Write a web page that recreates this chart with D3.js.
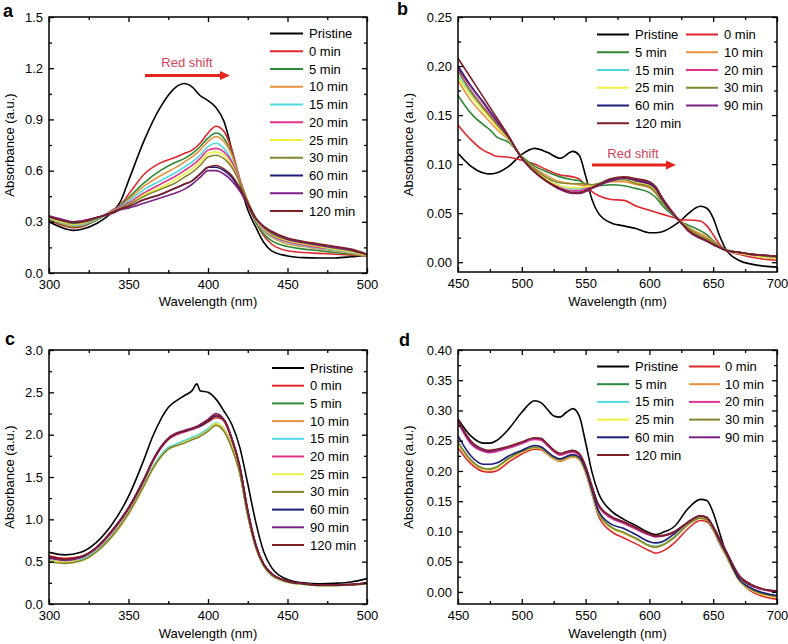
<!DOCTYPE html>
<html><head><meta charset="utf-8">
<script src="https://cdn.jsdelivr.net/npm/d3@7"></script>
<style>body{margin:0;background:#fff}svg{display:block}text{font-family:"Liberation Sans",Arial,Helvetica,sans-serif}</style>
</head><body>
<svg id="chart" width="788" height="644"></svg>
<script>
// ---------- series meta ----------
const seriesNames = ["Pristine","0 min","5 min","10 min","15 min","20 min","25 min","30 min","60 min","90 min","120 min"];
const seriesColors = ["#000000","#e1262b","#2b8a35","#e8913e","#4fd8e2","#e0338f","#f2ee40","#85852f","#1c1f78","#7b2185","#7d1f24"];

// ---------- panel a ----------
const aWavelength = [300,310,315,320,330,340,345,350,360,370,380,385,390,395,400,405,410,415,420,425,430,435,440,450,460,470,480,490,500];
const aPristine = [0.30,0.26,0.25,0.255,0.29,0.36,0.42,0.54,0.78,0.97,1.09,1.11,1.09,1.04,1.01,0.97,0.89,0.72,0.53,0.37,0.27,0.18,0.13,0.10,0.09,0.088,0.088,0.095,0.105];
const a0 = [0.31,0.275,0.265,0.27,0.31,0.37,0.40,0.46,0.58,0.645,0.68,0.70,0.72,0.76,0.82,0.86,0.83,0.72,0.55,0.40,0.30,0.22,0.17,0.13,0.12,0.115,0.11,0.105,0.10];
const a5 = [0.315,0.28,0.27,0.275,0.31,0.365,0.395,0.44,0.53,0.60,0.65,0.67,0.70,0.74,0.79,0.82,0.79,0.70,0.55,0.41,0.30,0.23,0.19,0.155,0.14,0.13,0.12,0.11,0.10];
const a10 = [0.32,0.285,0.275,0.28,0.315,0.365,0.39,0.43,0.51,0.57,0.62,0.65,0.68,0.72,0.77,0.80,0.77,0.69,0.55,0.42,0.31,0.245,0.21,0.17,0.155,0.14,0.13,0.115,0.10];
const a15 = [0.32,0.29,0.28,0.285,0.315,0.365,0.39,0.42,0.49,0.54,0.59,0.62,0.65,0.69,0.74,0.76,0.73,0.66,0.54,0.42,0.315,0.25,0.215,0.18,0.16,0.145,0.135,0.12,0.105];
const a20 = [0.325,0.295,0.285,0.29,0.32,0.365,0.385,0.41,0.47,0.52,0.57,0.60,0.63,0.67,0.72,0.73,0.71,0.65,0.54,0.42,0.32,0.255,0.22,0.185,0.165,0.15,0.14,0.125,0.105];
const a25 = [0.325,0.295,0.285,0.29,0.32,0.36,0.38,0.40,0.46,0.50,0.55,0.58,0.61,0.65,0.70,0.71,0.69,0.63,0.53,0.42,0.32,0.26,0.225,0.19,0.17,0.155,0.14,0.125,0.105];
const a30 = [0.33,0.30,0.29,0.295,0.32,0.36,0.38,0.40,0.45,0.49,0.53,0.56,0.59,0.63,0.68,0.69,0.67,0.62,0.53,0.42,0.325,0.265,0.23,0.195,0.175,0.16,0.145,0.13,0.105];
const a60 = [0.33,0.305,0.295,0.30,0.325,0.355,0.375,0.39,0.43,0.46,0.50,0.52,0.54,0.58,0.62,0.62,0.60,0.56,0.49,0.40,0.32,0.27,0.24,0.20,0.18,0.165,0.15,0.135,0.11];
const a90 = [0.335,0.31,0.30,0.305,0.325,0.35,0.37,0.38,0.41,0.44,0.47,0.49,0.52,0.56,0.60,0.60,0.58,0.54,0.48,0.40,0.32,0.27,0.24,0.20,0.18,0.165,0.15,0.135,0.11];
const a120 = [0.33,0.305,0.30,0.30,0.325,0.355,0.375,0.39,0.43,0.46,0.50,0.52,0.54,0.58,0.62,0.63,0.61,0.57,0.50,0.41,0.32,0.275,0.245,0.205,0.185,0.17,0.155,0.14,0.11];
const aXTicks = [300,350,400,450,500];
const aXMinor = [325,375,425,475];
const aYTicks = [0,0.3,0.6,0.9,1.2,1.5];
const aYMinor = [0.15,0.45,0.75,1.05,1.35];

// ---------- panel b ----------
const bWavelength = [450,460,470,475,480,490,500,510,520,530,540,545,550,555,560,570,580,590,600,605,610,620,625,630,640,645,650,655,660,670,680,690,700];
const bPristine = [0.111,0.098,0.091,0.090,0.091,0.098,0.110,0.116,0.112,0.106,0.113,0.109,0.088,0.064,0.050,0.040,0.037,0.034,0.030,0.030,0.031,0.038,0.043,0.049,0.057,0.055,0.045,0.027,0.013,0.002,-0.002,-0.004,-0.005];
const b0 = [0.140,0.125,0.114,0.111,0.108,0.107,0.104,0.100,0.094,0.089,0.087,0.085,0.078,0.072,0.068,0.064,0.063,0.057,0.053,0.051,0.049,0.045,0.043,0.043,0.042,0.037,0.028,0.018,0.012,0.008,0.005,0.003,0.002];
const b5 = [0.170,0.152,0.140,0.135,0.128,0.122,0.108,0.098,0.092,0.087,0.084,0.083,0.080,0.078,0.078,0.079,0.078,0.075,0.071,0.066,0.058,0.046,0.041,0.038,0.032,0.028,0.022,0.016,0.013,0.010,0.008,0.006,0.005];
const b10 = [0.185,0.165,0.150,0.143,0.136,0.124,0.107,0.096,0.088,0.082,0.080,0.079,0.078,0.078,0.079,0.082,0.082,0.079,0.076,0.070,0.061,0.047,0.041,0.036,0.029,0.026,0.021,0.016,0.012,0.009,0.007,0.005,0.004];
const b15 = [0.190,0.172,0.156,0.148,0.140,0.125,0.107,0.094,0.085,0.078,0.075,0.075,0.076,0.078,0.080,0.085,0.085,0.081,0.078,0.072,0.062,0.047,0.040,0.034,0.026,0.023,0.019,0.015,0.012,0.009,0.007,0.005,0.004];
const b20 = [0.195,0.175,0.158,0.150,0.141,0.126,0.106,0.093,0.083,0.076,0.073,0.073,0.075,0.078,0.080,0.085,0.086,0.082,0.079,0.073,0.063,0.047,0.040,0.033,0.025,0.022,0.018,0.015,0.012,0.009,0.007,0.006,0.005];
const b25 = [0.188,0.170,0.154,0.147,0.139,0.125,0.107,0.094,0.084,0.078,0.076,0.076,0.077,0.078,0.080,0.084,0.085,0.081,0.078,0.072,0.062,0.047,0.040,0.034,0.026,0.023,0.019,0.015,0.012,0.009,0.007,0.005,0.004];
const b30 = [0.195,0.174,0.157,0.149,0.141,0.126,0.107,0.095,0.086,0.081,0.080,0.080,0.080,0.079,0.080,0.083,0.084,0.080,0.077,0.071,0.061,0.047,0.040,0.035,0.027,0.024,0.020,0.016,0.012,0.010,0.008,0.006,0.005];
const b60 = [0.200,0.180,0.163,0.154,0.145,0.127,0.106,0.092,0.082,0.075,0.071,0.071,0.073,0.076,0.079,0.084,0.086,0.083,0.080,0.075,0.064,0.047,0.040,0.033,0.025,0.022,0.018,0.015,0.012,0.010,0.008,0.007,0.006];
const b90 = [0.198,0.179,0.162,0.153,0.144,0.127,0.106,0.092,0.082,0.074,0.070,0.070,0.072,0.075,0.078,0.083,0.086,0.084,0.081,0.076,0.065,0.047,0.040,0.032,0.024,0.021,0.018,0.015,0.012,0.010,0.008,0.007,0.006];
const b120 = [0.208,0.188,0.168,0.158,0.148,0.128,0.106,0.092,0.082,0.075,0.071,0.071,0.073,0.076,0.079,0.085,0.087,0.085,0.082,0.077,0.066,0.048,0.040,0.033,0.025,0.022,0.018,0.015,0.012,0.010,0.008,0.007,0.006];
const bXTicks = [450,500,550,600,650,700];
const bXMinor = [475,525,575,625,675];
const bYTicks = [0,0.05,0.10,0.15,0.20,0.25];
const bYMinor = [0.025,0.075,0.125,0.175,0.225];

// ---------- panel c ----------
const cWavelength = [300,310,320,330,340,350,360,365,370,375,380,385,390,393,395,400,405,410,415,420,425,430,435,440,450,460,470,480,490,500];
const cPristine = [0.61,0.58,0.61,0.73,0.95,1.27,1.72,1.97,2.17,2.32,2.40,2.46,2.52,2.60,2.52,2.50,2.42,2.28,2.12,1.85,1.42,0.97,0.62,0.43,0.29,0.25,0.24,0.245,0.26,0.30];
const c0 = [0.57,0.54,0.56,0.67,0.87,1.13,1.48,1.68,1.84,1.95,2.01,2.04,2.07,2.09,2.10,2.15,2.20,2.18,1.95,1.62,1.10,0.70,0.47,0.36,0.27,0.24,0.225,0.225,0.23,0.25];
const c5 = [0.51,0.49,0.52,0.63,0.82,1.08,1.42,1.60,1.74,1.84,1.88,1.92,1.95,1.97,1.99,2.05,2.12,2.05,1.85,1.55,1.05,0.67,0.45,0.34,0.26,0.235,0.22,0.22,0.225,0.24];
const c10 = [0.52,0.50,0.52,0.62,0.80,1.06,1.40,1.58,1.73,1.83,1.88,1.92,1.96,1.98,2.00,2.06,2.13,2.07,1.88,1.58,1.08,0.69,0.46,0.34,0.26,0.235,0.22,0.22,0.225,0.24];
const c15 = [0.52,0.49,0.52,0.63,0.82,1.08,1.43,1.61,1.75,1.85,1.89,1.93,1.97,1.99,2.01,2.07,2.14,2.06,1.86,1.56,1.06,0.68,0.45,0.34,0.26,0.235,0.22,0.22,0.225,0.24];
const c20 = [0.55,0.52,0.55,0.66,0.86,1.12,1.47,1.67,1.83,1.94,2.00,2.03,2.06,2.08,2.10,2.16,2.23,2.16,1.94,1.61,1.09,0.70,0.47,0.36,0.27,0.24,0.225,0.225,0.23,0.25];
const c25 = [0.51,0.49,0.51,0.62,0.81,1.07,1.41,1.59,1.73,1.83,1.87,1.91,1.95,1.97,1.99,2.05,2.13,2.06,1.86,1.56,1.06,0.68,0.45,0.34,0.26,0.235,0.22,0.22,0.225,0.24];
const c30 = [0.50,0.48,0.51,0.62,0.81,1.07,1.41,1.59,1.73,1.83,1.87,1.90,1.94,1.96,1.98,2.04,2.11,2.04,1.84,1.54,1.04,0.67,0.45,0.34,0.26,0.235,0.22,0.22,0.225,0.24];
const c60 = [0.55,0.52,0.55,0.67,0.87,1.13,1.48,1.68,1.84,1.95,2.01,2.04,2.07,2.09,2.10,2.16,2.22,2.17,1.95,1.62,1.10,0.70,0.47,0.36,0.27,0.24,0.225,0.225,0.23,0.25];
const c90 = [0.54,0.52,0.55,0.67,0.88,1.14,1.49,1.69,1.85,1.96,2.02,2.05,2.08,2.10,2.12,2.18,2.25,2.18,1.96,1.63,1.11,0.71,0.47,0.36,0.27,0.24,0.225,0.225,0.23,0.25];
const c120 = [0.56,0.53,0.56,0.67,0.87,1.13,1.48,1.68,1.84,1.95,2.01,2.04,2.07,2.09,2.11,2.17,2.23,2.17,1.95,1.62,1.10,0.70,0.47,0.36,0.27,0.24,0.225,0.225,0.23,0.25];
const cXTicks = [300,350,400,450,500];
const cXMinor = [325,375,425,475];
const cYTicks = [0,0.5,1.0,1.5,2.0,2.5,3.0];
const cYMinor = [0.25,0.75,1.25,1.75,2.25,2.75];

// ---------- panel d ----------
const dWavelength = [450,460,470,475,480,490,500,510,515,520,525,530,535,540,545,550,555,560,570,580,590,600,605,610,620,630,640,645,650,655,660,670,680,690,700];
const dPristine = [0.286,0.258,0.246,0.246,0.250,0.270,0.297,0.316,0.313,0.302,0.291,0.289,0.297,0.303,0.291,0.247,0.198,0.164,0.134,0.120,0.109,0.098,0.095,0.098,0.109,0.137,0.153,0.151,0.131,0.098,0.065,0.026,0.010,0.004,0.002];
const d0 = [0.238,0.212,0.199,0.198,0.200,0.215,0.228,0.236,0.235,0.228,0.220,0.216,0.220,0.223,0.219,0.197,0.162,0.126,0.100,0.089,0.079,0.068,0.064,0.067,0.082,0.104,0.118,0.116,0.102,0.080,0.060,0.020,0.001,-0.008,-0.012];
const d5 = [0.247,0.218,0.204,0.203,0.206,0.221,0.232,0.239,0.238,0.230,0.222,0.218,0.222,0.225,0.221,0.200,0.166,0.131,0.107,0.098,0.088,0.077,0.075,0.078,0.092,0.112,0.123,0.120,0.105,0.083,0.062,0.021,0.004,-0.004,-0.008];
const d10 = [0.245,0.217,0.203,0.202,0.205,0.220,0.231,0.238,0.237,0.229,0.221,0.217,0.221,0.224,0.220,0.199,0.165,0.130,0.106,0.097,0.087,0.076,0.074,0.077,0.091,0.111,0.122,0.119,0.104,0.082,0.061,0.020,0.003,-0.005,-0.009];
const d15 = [0.246,0.218,0.204,0.203,0.206,0.221,0.232,0.239,0.238,0.230,0.222,0.218,0.222,0.225,0.221,0.200,0.166,0.131,0.107,0.098,0.088,0.077,0.075,0.078,0.092,0.112,0.123,0.120,0.105,0.083,0.062,0.021,0.004,-0.004,-0.008];
const d20 = [0.280,0.245,0.232,0.230,0.232,0.238,0.245,0.252,0.251,0.242,0.232,0.226,0.229,0.231,0.226,0.205,0.172,0.142,0.122,0.113,0.103,0.094,0.091,0.092,0.099,0.114,0.125,0.122,0.107,0.087,0.067,0.027,0.011,0.003,0.000];
const d25 = [0.246,0.217,0.203,0.202,0.205,0.220,0.231,0.238,0.237,0.229,0.221,0.217,0.221,0.224,0.220,0.199,0.165,0.130,0.106,0.097,0.087,0.076,0.074,0.077,0.091,0.111,0.122,0.119,0.104,0.082,0.061,0.020,0.003,-0.005,-0.009];
const d30 = [0.247,0.218,0.204,0.203,0.206,0.221,0.232,0.239,0.238,0.230,0.222,0.218,0.222,0.225,0.221,0.200,0.166,0.131,0.107,0.098,0.088,0.076,0.074,0.077,0.091,0.111,0.122,0.119,0.104,0.082,0.062,0.021,0.004,-0.004,-0.008];
const d60 = [0.258,0.225,0.211,0.211,0.213,0.225,0.234,0.242,0.240,0.232,0.224,0.220,0.224,0.227,0.223,0.203,0.169,0.135,0.112,0.105,0.094,0.083,0.081,0.083,0.097,0.115,0.126,0.123,0.107,0.085,0.065,0.022,0.006,-0.002,-0.006];
const d90 = [0.282,0.247,0.234,0.232,0.234,0.240,0.247,0.254,0.253,0.244,0.234,0.228,0.231,0.233,0.228,0.207,0.174,0.144,0.124,0.115,0.105,0.095,0.092,0.093,0.100,0.115,0.126,0.123,0.108,0.088,0.068,0.028,0.012,0.004,0.001];
const d120 = [0.285,0.250,0.236,0.234,0.236,0.241,0.248,0.255,0.254,0.245,0.235,0.229,0.232,0.234,0.229,0.208,0.175,0.145,0.125,0.116,0.106,0.096,0.093,0.093,0.100,0.115,0.126,0.123,0.108,0.088,0.068,0.028,0.012,0.004,0.001];
const dXTicks = [450,500,550,600,650,700];
const dXMinor = [475,525,575,625,675];
const dYTicks = [0,0.05,0.10,0.15,0.20,0.25,0.30,0.35,0.40];
const dYMinor = [0.025,0.075,0.125,0.175,0.225,0.275,0.325,0.375];

const svg = d3.select("#chart");
const FONT = 13;

function drawPanel(cfg) {
  const g = svg.append("g");
  const x = d3.scaleLinear().domain(cfg.xDomain).range([cfg.left, cfg.right]);
  const y = d3.scaleLinear().domain(cfg.yDomain).range([cfg.bottom, cfg.top]);
  const clipId = "clip-" + cfg.letter;
  svg.append("defs").append("clipPath").attr("id", clipId)
    .append("rect").attr("x", cfg.left).attr("y", cfg.top)
    .attr("width", cfg.right - cfg.left).attr("height", cfg.bottom - cfg.top);

  // data lines
  const line = d3.line().x(d => x(d[0])).y(d => y(d[1])).curve(d3.curveMonotoneX);
  const lg = g.append("g").attr("clip-path", `url(#${clipId})`);
  cfg.series.forEach((vals, i) => {
    const pts = cfg.wl.map((w, j) => [w, vals[j]]);
    lg.append("path").attr("d", line(pts)).attr("fill", "none")
      .attr("stroke", seriesColors[i]).attr("stroke-width", 1.6)
      .attr("stroke-linejoin", "round");
  });

  // axes
  const styleAxis = sel => {
    sel.select(".domain").remove();
    sel.selectAll("line").attr("stroke", "#000").attr("stroke-width", 1.3);
    sel.selectAll("text").attr("font-size", FONT).attr("fill", "#000")
      .style("font-family", '"Liberation Sans", Arial, sans-serif');
  };
  g.append("g").attr("transform", `translate(0,${cfg.bottom})`)
    .call(d3.axisBottom(x).tickValues(cfg.xTicks).tickSize(-5).tickPadding(7).tickFormat(d3.format("d"))).call(styleAxis);
  g.append("g").attr("transform", `translate(0,${cfg.bottom})`)
    .call(d3.axisBottom(x).tickValues(cfg.xMinor).tickSize(-3).tickFormat("")).call(styleAxis);
  g.append("g").attr("transform", `translate(0,${cfg.top})`)
    .call(d3.axisTop(x).tickValues(cfg.xTicks).tickSize(-5).tickFormat("")).call(styleAxis);
  g.append("g").attr("transform", `translate(0,${cfg.top})`)
    .call(d3.axisTop(x).tickValues(cfg.xMinor).tickSize(-3).tickFormat("")).call(styleAxis);
  g.append("g").attr("transform", `translate(${cfg.left},0)`)
    .call(d3.axisLeft(y).tickValues(cfg.yTicks).tickSize(-5).tickPadding(6).tickFormat(d3.format(cfg.yFmt))).call(styleAxis);
  g.append("g").attr("transform", `translate(${cfg.left},0)`)
    .call(d3.axisLeft(y).tickValues(cfg.yMinor).tickSize(-3).tickFormat("")).call(styleAxis);
  g.append("g").attr("transform", `translate(${cfg.right},0)`)
    .call(d3.axisRight(y).tickValues(cfg.yTicks).tickSize(-5).tickFormat("")).call(styleAxis);
  g.append("g").attr("transform", `translate(${cfg.right},0)`)
    .call(d3.axisRight(y).tickValues(cfg.yMinor).tickSize(-3).tickFormat("")).call(styleAxis);

  // frame
  g.append("rect").attr("x", cfg.left).attr("y", cfg.top)
    .attr("width", cfg.right - cfg.left).attr("height", cfg.bottom - cfg.top)
    .attr("fill", "none").attr("stroke", "#000").attr("stroke-width", 1.5);

  // axis titles
  g.append("text").attr("x", (cfg.left + cfg.right) / 2).attr("y", cfg.xlabY)
    .attr("text-anchor", "middle").attr("font-size", FONT).text("Wavelength (nm)");
  g.append("text").attr("transform", `translate(${cfg.ylabX},${(cfg.top + cfg.bottom) / 2}) rotate(-90)`)
    .attr("text-anchor", "middle").attr("font-size", FONT).text("Absorbance (a.u.)");

  // panel letter
  g.append("text").attr("x", cfg.letterX).attr("y", cfg.letterY)
    .attr("font-size", 18).attr("font-weight", "bold").text(cfg.letter);

  // legend
  const L = cfg.legend;
  seriesNames.forEach((name, i) => {
    const col = L.cols === 1 ? 0 : i % 2;
    const row = L.cols === 1 ? i : Math.floor(i / 2);
    const yy = L.y0 + row * L.dy;
    const c = L.colX[col];
    g.append("line").attr("x1", c[0]).attr("x2", c[1]).attr("y1", yy).attr("y2", yy)
      .attr("stroke", seriesColors[i]).attr("stroke-width", 2);
    g.append("text").attr("x", c[2]).attr("y", yy).attr("dy", "0.35em")
      .attr("font-size", FONT).text(name);
  });

  // red shift annotation
  if (cfg.shift) {
    const s = cfg.shift;
    g.append("text").attr("x", s.tx).attr("y", s.ty).attr("text-anchor", "middle")
      .attr("font-size", FONT).attr("fill", "#d2435a").text("Red shift");
    g.append("line").attr("x1", s.x1).attr("x2", s.x2 - 8).attr("y1", s.y).attr("y2", s.y)
      .attr("stroke", "#e5231f").attr("stroke-width", 3.2);
    g.append("path").attr("d", `M${s.x2},${s.y} L${s.x2 - 10},${s.y - 4.5} L${s.x2 - 10},${s.y + 4.5} Z`)
      .attr("fill", "#e5231f");
  }
}

drawPanel({
  letter: "a", letterX: 3, letterY: 17,
  left: 49, right: 367, top: 17, bottom: 273,
  xDomain: [300, 500], yDomain: [0, 1.5], yFmt: ".1f",
  xTicks: aXTicks, xMinor: aXMinor, yTicks: aYTicks, yMinor: aYMinor,
  wl: aWavelength, series: [aPristine,a0,a5,a10,a15,a20,a25,a30,a60,a90,a120],
  xlabY: 306, ylabX: 14,
  legend: { cols: 1, y0: 33.5, dy: 17.75, colX: [[270, 303, 309]] },
  shift: { tx: 187, ty: 67, x1: 145, x2: 230, y: 75.5 }
});
drawPanel({
  letter: "b", letterX: 397, letterY: 15,
  left: 458, right: 777, top: 17, bottom: 272,
  xDomain: [450, 700], yDomain: [-0.01, 0.25], yFmt: ".2f",
  xTicks: bXTicks, xMinor: bXMinor, yTicks: bYTicks, yMinor: bYMinor,
  wl: bWavelength, series: [bPristine,b0,b5,b10,b15,b20,b25,b30,b60,b90,b120],
  xlabY: 306, ylabX: 413,
  legend: { cols: 2, y0: 34.5, dy: 17.75, colX: [[597, 629, 635], [686, 718, 724]] },
  shift: { tx: 633, ty: 158, x1: 592, x2: 676, y: 165 }
});
drawPanel({
  letter: "c", letterX: 5, letterY: 345,
  left: 49, right: 367, top: 350, bottom: 604,
  xDomain: [300, 500], yDomain: [0, 3], yFmt: ".1f",
  xTicks: cXTicks, xMinor: cXMinor, yTicks: cYTicks, yMinor: cYMinor,
  wl: cWavelength, series: [cPristine,c0,c5,c10,c15,c20,c25,c30,c60,c90,c120],
  xlabY: 638, ylabX: 14,
  legend: { cols: 1, y0: 368, dy: 17.7, colX: [[272, 304, 310]] }
});
drawPanel({
  letter: "d", letterX: 399, letterY: 346,
  left: 458, right: 777, top: 350, bottom: 604,
  xDomain: [450, 700], yDomain: [-0.02, 0.40], yFmt: ".2f",
  xTicks: dXTicks, xMinor: dXMinor, yTicks: dYTicks, yMinor: dYMinor,
  wl: dWavelength, series: [dPristine,d0,d5,d10,d15,d20,d25,d30,d60,d90,d120],
  xlabY: 638, ylabX: 413,
  legend: { cols: 2, y0: 366.5, dy: 17.7, colX: [[597, 629, 635], [689, 720, 725]] }
});
</script>
</body></html>
